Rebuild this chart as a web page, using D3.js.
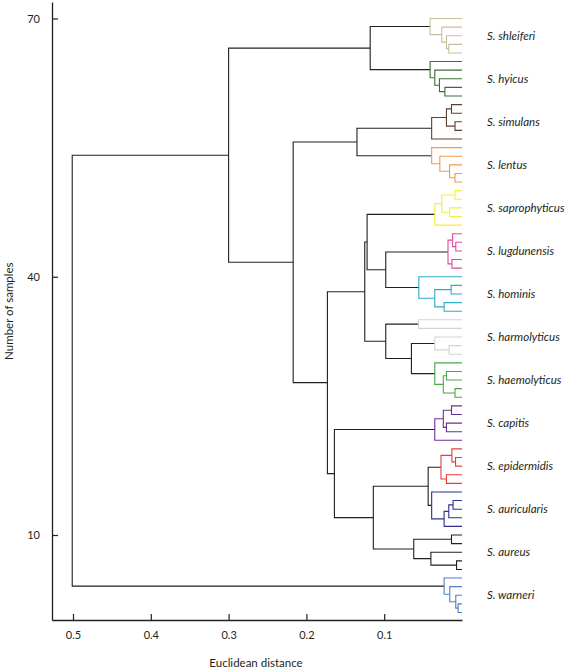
<!DOCTYPE html>
<html>
<head>
<meta charset="utf-8">
<script src="https://cdn.jsdelivr.net/npm/d3@7"></script>
<style>
  html, body { margin: 0; padding: 0; background: #fff; }
  svg { display: block; }
  text { font-family: Lato, "Open Sans", sans-serif; fill: #231f20; }
</style>
</head>
<body>
<svg id="chart" width="567" height="669"></svg>
<script>
// ---------------- DATA ----------------
// Species groups, top to bottom (5 samples each; samples numbered 70 (top) .. 1 (bottom))
const species = [
  "S. shleiferi", "S. hyicus", "S. simulans", "S. lentus", "S. saprophyticus",
  "S. lugdunensis", "S. hominis", "S. harmolyticus", "S. haemolyticus",
  "S. capitis", "S. epidermidis", "S. auricularis", "S. aureus", "S. warneri"
];
const speciesColors = [
  "#c9bf9c", "#3a6d3a", "#5e3f30", "#f39a45", "#f4ef3a",
  "#e2479c", "#2eaccb", "#d4d4d4", "#4ea44e",
  "#6b2f9c", "#ec3b3b", "#2f2e8e", "#231f20", "#4f7fc0"
];
const samplesPerSpecies = 5;
const nSamples = 70;

// Linkage: [node name, child 1 (upper), child 2 (lower), Euclidean distance]
// children are sample numbers or earlier node names
const linkage = [
  ["sh1", 67, 66, 0.017], ["sh2", 68, "sh1", 0.020], ["sh3", 69, "sh2", 0.026], ["sh", 70, "sh3", 0.041],
  ["hy1", 62, 61, 0.022], ["hy2", 63, "hy1", 0.029], ["hy3", 64, "hy2", 0.035], ["hy", 65, "hy3", 0.041],
  ["A", "sh", "hy", 0.118],
  ["si1", 60, 59, 0.0135], ["si2", 58, 57, 0.009], ["si3", "si1", "si2", 0.020], ["si", "si3", 56, 0.039],
  ["le1", 52, 51, 0.009], ["le2", 53, "le1", 0.016], ["le3", 54, "le2", 0.0285], ["le", 55, "le3", 0.039],
  ["B", "si", "le", 0.135],
  ["sa1", 50, 49, 0.009], ["sa2", 48, 47, 0.016], ["sa3", "sa1", "sa2", 0.026], ["sa", "sa3", 46, 0.035],
  ["lu1", 44, 43, 0.008], ["lu2", 45, "lu1", 0.012], ["lu3", 42, 41, 0.013], ["lu", "lu2", "lu3", 0.018],
  ["ho1", 39, 38, 0.014], ["ho2", 37, 36, 0.023], ["ho3", "ho1", "ho2", 0.035], ["ho", 40, "ho3", 0.0555],
  ["Hn", "lu", "ho", 0.098],
  ["G", "sa", "Hn", 0.122],
  ["hm1", 35, 34, 0.056], ["hm2", 32, 31, 0.0165], ["hm3", 33, "hm2", 0.035],
  ["ha1", 29, 28, 0.020], ["ha2", 27, 26, 0.009], ["ha3", "ha1", "ha2", 0.024], ["ha", 30, "ha3", 0.035],
  ["K", "hm3", "ha", 0.065],
  ["I", "hm1", "K", 0.098],
  ["F", "G", "I", 0.125],
  ["ca1", 25, 24, 0.0135], ["ca2", 23, 22, 0.020], ["ca3", "ca1", "ca2", 0.024], ["ca", "ca3", 21, 0.035],
  ["ep1", 19, 18, 0.0083], ["ep2", 20, "ep1", 0.013], ["ep3", 17, 16, 0.020], ["ep", "ep2", "ep3", 0.027],
  ["au1", 14, 13, 0.0115], ["au2", "au1", 12, 0.017], ["au3", "au2", 11, 0.023], ["au", 15, "au3", 0.039],
  ["O", "ep", "au", 0.0435],
  ["ar1", 10, 9, 0.0135], ["ar2", 7, 6, 0.007], ["ar3", 8, "ar2", 0.040], ["ar", "ar1", "ar3", 0.062],
  ["N", "O", "ar", 0.114],
  ["M", "ca", "N", 0.164],
  ["E", "F", "M", 0.173],
  ["C", "B", "E", 0.217],
  ["D", "A", "C", 0.300],
  ["wa1", 2, 1, 0.005], ["wa2", 3, "wa1", 0.008], ["wa3", 4, "wa2", 0.0157], ["wa", 5, "wa3", 0.023],
  ["root", "D", "wa", 0.501]
];

const xTicks = [0.5, 0.4, 0.3, 0.2, 0.1];
const yTicks = [10, 40, 70];
const xTitle = "Euclidean distance";
const yTitle = "Number of samples";

// ---------------- BUILD TREE ----------------
const nodes = {};
function getNode(ref) {
  if (typeof ref === "number") {
    const g = Math.floor((nSamples - ref) / samplesPerSpecies);
    return { name: "s" + ref, sample: ref, group: g, height: 0 };
  }
  return nodes[ref];
}
linkage.forEach(([name, a, b, h]) => {
  nodes[name] = { name, height: h, children: [getNode(a), getNode(b)] };
});
const root = d3.hierarchy(nodes["root"]);

// ---------------- SCALES ----------------
const svg = d3.select("#chart");
const xLeft = 52, xRight = 462, axisY = 620;
const x = d3.scaleLinear().domain([0, 0.527]).range([xRight, xLeft]);
// sample number -> vertical pixel (10 at 535, 70 at 18.5)
const yLeaf = d3.scaleLinear().domain([10, 70]).range([535, 18.5]);
const yAxisScale = yLeaf.copy().domain([yLeaf.invert(axisY), yLeaf.invert(2)]).range([axisY, 2]);

// positions (MATLAB-style: parent y = mean of children y)
root.eachAfter(n => {
  if (!n.children) {
    n.py = yLeaf(n.data.sample);
    n.grp = n.data.group;
  } else {
    n.py = d3.mean(n.children, c => c.py);
    const g0 = n.children[0].grp;
    n.grp = n.children.every(c => c.grp === g0) ? g0 : -1;
  }
  n.px = x(n.data.height);
});

// ---------------- LINKS ----------------
const internal = root.descendants().filter(n => n.children);
svg.append("g")
  .attr("fill", "none")
  .selectAll("path")
  .data(internal)
  .join("path")
  .attr("d", n => {
    const [a, b] = n.children;
    return `M${a.px},${a.py}H${n.px}V${b.py}H${b.px}`;
  })
  .attr("stroke", n => n.grp >= 0 ? speciesColors[n.grp] : "#231f20")
  .attr("stroke-width", 1.1);

// ---------------- AXES ----------------
const gx = svg.append("g")
  .attr("transform", `translate(0,${axisY})`)
  .call(d3.axisBottom(x).tickValues(xTicks).tickFormat(d3.format(".1f"))
    .tickSizeInner(-6).tickSizeOuter(0).tickPadding(11));
const gy = svg.append("g")
  .attr("transform", `translate(${xLeft},0)`)
  .call(d3.axisLeft(yAxisScale).tickValues(yTicks)
    .tickSizeInner(-6).tickSizeOuter(0).tickPadding(12));
[gx, gy].forEach(g => {
  g.select(".domain").attr("stroke", "#231f20").attr("stroke-width", 1.3);
  g.selectAll(".tick line").attr("stroke", "#231f20").attr("stroke-width", 1.2);
  g.selectAll(".tick text").attr("fill", "#231f20")
    .style("font-family", "Lato, sans-serif").style("font-size", "11px");
});

// ---------------- LABELS ----------------
svg.append("g")
  .selectAll("text")
  .data(species)
  .join("text")
  .attr("x", 487)
  .attr("y", (d, i) => yLeaf(nSamples - i * samplesPerSpecies - 2))
  .attr("dy", "0.35em")
  .style("font-style", "italic")
  .style("font-size", "11.5px")
  .text(d => d);

svg.append("text")
  .attr("x", 256)
  .attr("y", 667)
  .attr("text-anchor", "middle")
  .style("font-size", "11.5px")
  .text(xTitle);

svg.append("text")
  .attr("transform", `translate(13,${yAxisScale(36)}) rotate(-90)`)
  .attr("text-anchor", "middle")
  .style("font-size", "11.5px")
  .text(yTitle);
</script>
</body>
</html>
